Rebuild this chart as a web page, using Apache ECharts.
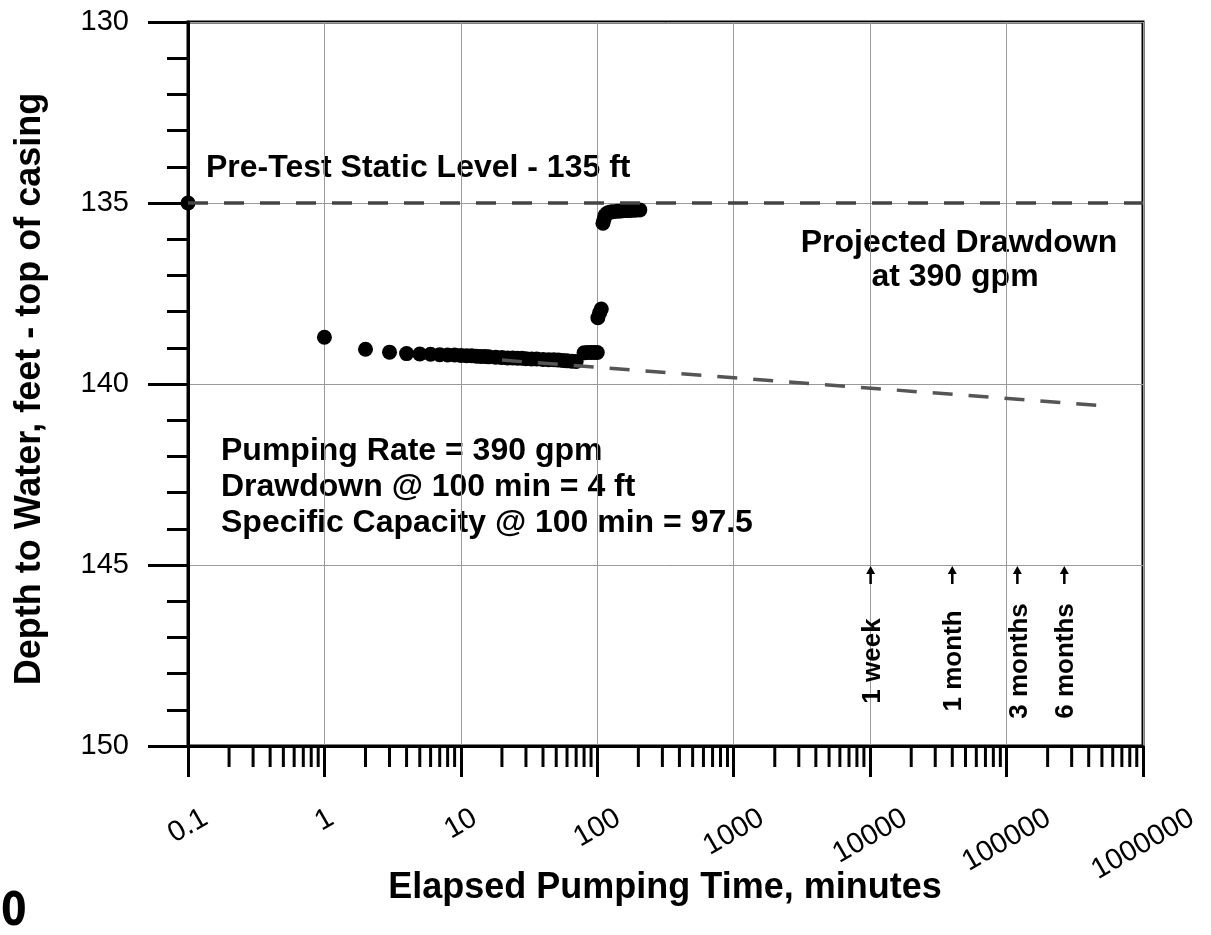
<!DOCTYPE html>
<html><head><meta charset="utf-8">
<script src="https://cdn.jsdelivr.net/npm/echarts@6/dist/echarts.min.js"></script>
<style>html,body{margin:0;padding:0;background:#fff}#c{width:1211px;height:935px}</style>
</head><body><div id="c"></div>
<script>
// ---- data ----
const xTickLabels = ['0.1','1','10','100','1000','10000','100000','1000000'];
const obsTime  = [0.1, 1, 2, 3, 4, 5, 6, 7, 8, 9, 10, 11, 12, 13, 14, 15, 16, 18, 20, 22, 24, 26, 28, 30,
                  33, 36, 40, 44, 48, 52, 56, 60, 65, 70, 80, 85, 90, 95, 100,
                  101, 104, 107,
                  110, 112, 114, 117, 120, 125, 130, 140, 150, 160, 170, 180, 190, 205];
const obsDepth = [135.0, 138.71, 139.04, 139.12, 139.16, 139.17, 139.18, 139.19, 139.2, 139.2, 139.21, 139.22, 139.22, 139.23, 139.24, 139.24, 139.25, 139.26, 139.27, 139.28, 139.28, 139.29, 139.29, 139.3,
                  139.31, 139.31, 139.32, 139.33, 139.33, 139.34, 139.35, 139.36, 139.37, 139.38, 139.14, 139.13, 139.13, 139.13, 139.13,
                  138.17, 138.03, 137.93,
                  135.56, 135.45, 135.35, 135.3, 135.27, 135.25, 135.24, 135.23, 135.22, 135.21, 135.21, 135.2, 135.2, 135.19];
const staticTime  = [0.1, 1000000];
const staticDepth = [135, 135];
const projTime  = [20, 500000];
const projDepth = [139.34, 140.6];
const markTime  = [10080, 40000, 120000, 265000];
const markDepth = [145, 145, 145, 145];
const markLabel = ['1 week', '1 month', '3 months', '6 months'];

// ---- rendering ----
const FF = '"Liberation Sans", Arial, Helvetica, sans-serif';
const TICK_FS = 29;
const ROT_DEG = 30;
const ROT = ROT_DEG * Math.PI / 180;
const cv = document.createElement('canvas').getContext('2d');
cv.font = TICK_FS + 'px ' + FF;
const rich = {};
xTickLabels.forEach((s, i) => {
  const w = cv.measureText(s).width;
  const D = w / 2 * Math.sin(ROT);
  rich['L' + i] = {
    fontSize: TICK_FS, fontFamily: FF, color: '#000',
    padding: [2 * D * Math.cos(ROT), 2 * D * Math.sin(ROT), 0, 0]
  };
});

const xMinor = [];
for (let k = -1; k < 6; k++) for (let m = 2; m <= 9; m++) xMinor.push([+(m * Math.pow(10, k)).toPrecision(3), 150]);

const chart = echarts.init(document.getElementById('c'), null, {renderer: 'canvas'});
const option = {
  animation: false,
  backgroundColor: '#fff',
  grid: {left: 188, top: 22, right: 68, bottom: 189, show: true, borderColor: '#000', borderWidth: 3,
         backgroundColor: 'transparent', containLabel: false, outerBoundsMode: 'none'},
  xAxis: {
    type: 'log', logBase: 10, min: 0.1, max: 1000000, splitNumber: 7,
    axisLine: {show: true, onZero: false, lineStyle: {color: '#000', width: 3}},
    axisTick: {show: true, length: 31, lineStyle: {color: '#000', width: 3}},
    minorTick: {show: false},
    splitLine: {show: true, lineStyle: {color: '#9a9a9a', width: 1}},
    axisLabel: {
      show: true, rotate: ROT_DEG, align: 'center', verticalAlign: 'middle', margin: 70,
      hideOverlap: false, showMinLabel: true, showMaxLabel: true,
      fontSize: TICK_FS, fontFamily: FF, color: '#000', rich: rich,
      formatter: function (v) {
        const i = Math.round(Math.log10(v)) + 1;
        return '{L' + i + '|' + xTickLabels[i] + '}';
      }
    }
  },
  yAxis: {
    type: 'value', inverse: true, min: 130, max: 150, interval: 5,
    axisLine: {show: true, onZero: false, lineStyle: {color: '#000', width: 3}},
    axisTick: {show: true, length: 40, lineStyle: {color: '#000', width: 3}},
    minorTick: {show: true, splitNumber: 5, length: 21, lineStyle: {color: '#000', width: 3}},
    splitLine: {show: true, lineStyle: {color: '#9a9a9a', width: 1}},
    axisLabel: {fontSize: TICK_FS, fontFamily: FF, color: '#000', margin: 59}
  },
  series: [
    {
      type: 'scatter', name: 'obs', clip: false, z: 3,
      symbol: 'circle', symbolSize: 15, itemStyle: {color: '#000', opacity: 1},
      data: obsTime.map((t, i) => [t, obsDepth[i]])
    },
    {
      type: 'line', name: 'static', clip: false, z: 4, symbol: 'none',
      lineStyle: {color: '#444', width: 3.5, type: [20, 16]},
      data: staticTime.map((t, i) => [t, staticDepth[i]])
    },
    {
      type: 'line', name: 'projection', clip: false, z: 4, symbol: 'none',
      lineStyle: {color: '#555', width: 3.5, type: [20, 16]},
      data: projTime.map((t, i) => [t, projDepth[i]])
    },
    {
      type: 'custom', name: 'xminor', clip: false, z: 2,
      data: xMinor,
      renderItem: function (params, api) {
        const p = api.coord([api.value(0), api.value(1)]);
        return {type: 'line', shape: {x1: p[0], y1: p[1], x2: p[0], y2: p[1] + 21},
                style: {stroke: '#000', lineWidth: 3}};
      }
    },
    {
      type: 'custom', name: 'marks', clip: false, z: 5,
      data: markTime.map((t, i) => [t, markDepth[i]]),
      renderItem: function (params, api) {
        const p = api.coord([api.value(0), api.value(1)]);
        const x = p[0], y = p[1];
        return {type: 'group', children: [
          {type: 'line', shape: {x1: x, y1: y + 6, x2: x, y2: y + 19}, style: {stroke: '#000', lineWidth: 2.5}},
          {type: 'polygon', shape: {points: [[x, y + 1], [x - 4.5, y + 9], [x + 4.5, y + 9]]}, style: {fill: '#000'}},
          {type: 'text', x: x + 2, y: y + 96, rotation: Math.PI / 2,
           style: {text: markLabel[params.dataIndex], font: 'bold 26px ' + FF, fill: '#000',
                   align: 'center', verticalAlign: 'middle'}}
        ]};
      }
    }
  ],
  graphic: [
    {type: 'text', x: 206, y: 168, style: {text: 'Pre-Test Static Level - 135 ft', font: 'bold 32px ' + FF, fill: '#000', align: 'left', verticalAlign: 'middle'}},
    {type: 'text', x: 959, y: 243, style: {text: 'Projected Drawdown', font: 'bold 32px ' + FF, fill: '#000', align: 'center', verticalAlign: 'middle'}},
    {type: 'text', x: 955, y: 277, style: {text: 'at 390 gpm', font: 'bold 32px ' + FF, fill: '#000', align: 'center', verticalAlign: 'middle'}},
    {type: 'text', x: 221, y: 451, style: {text: 'Pumping Rate = 390 gpm', font: 'bold 32px ' + FF, fill: '#000', align: 'left', verticalAlign: 'middle'}},
    {type: 'text', x: 221, y: 487, style: {text: 'Drawdown @ 100 min = 4 ft', font: 'bold 32px ' + FF, fill: '#000', align: 'left', verticalAlign: 'middle'}},
    {type: 'text', x: 221, y: 523, style: {text: 'Specific Capacity @ 100 min = 97.5', font: 'bold 32px ' + FF, fill: '#000', align: 'left', verticalAlign: 'middle'}},
    {type: 'text', x: 665, y: 888, style: {text: 'Elapsed Pumping Time, minutes', font: 'bold 36px ' + FF, fill: '#000', align: 'center', verticalAlign: 'middle'}},
    {type: 'text', x: 30, y: 389, rotation: Math.PI / 2, style: {text: 'Depth to Water, feet - top of casing', font: 'bold 36px ' + FF, fill: '#000', align: 'center', verticalAlign: 'middle'}},
    {type: 'text', x: 1, y: 913, scaleX: 0.8, style: {text: '0', font: 'bold 46px "DejaVu Sans", sans-serif', fill: '#000', align: 'left', verticalAlign: 'middle'}}
  ]
};
chart.setOption(option);
</script>
</body></html>
